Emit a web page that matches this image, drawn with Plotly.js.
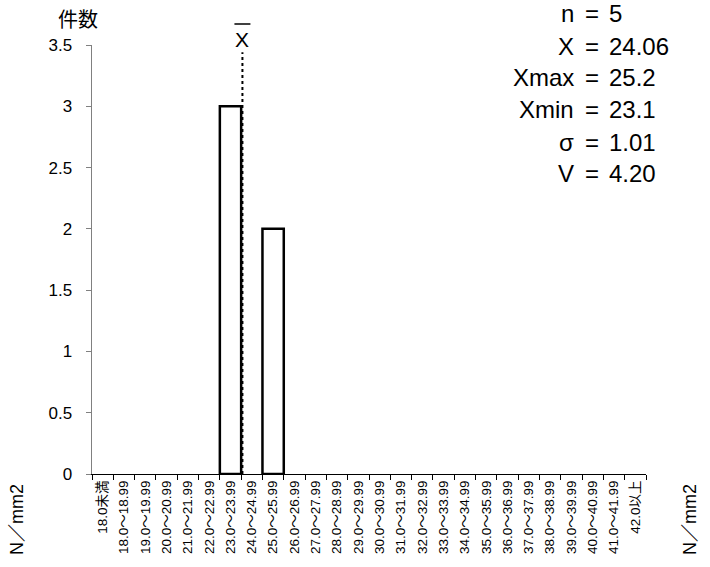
<!DOCTYPE html>
<html><head><meta charset="utf-8">
<script src="https://cdn.plot.ly/plotly-3.0.1.min.js"></script>
<style>body{margin:0;background:#fff}#c{width:710px;height:567px}</style>
</head><body><div id="c"></div>
<script>
const categories = ["18.0未満","18.0～18.99","19.0～19.99","20.0～20.99","21.0～21.99","22.0～22.99","23.0～23.99","24.0～24.99","25.0～25.99","26.0～26.99","27.0～27.99","28.0～28.99","29.0～29.99","30.0～30.99","31.0～31.99","32.0～32.99","33.0～33.99","34.0～34.99","35.0～35.99","36.0～36.99","37.0～37.99","38.0～38.99","39.0～39.99","40.0～40.99","41.0～41.99","42.0以上"];
const counts = [0,0,0,0,0,0,3,0,2,0,0,0,0,0,0,0,0,0,0,0,0,0,0,0,0,0];
const yTicks = [0,0.5,1,1.5,2,2.5,3,3.5];
const statNames = ["n","X","Xmax","Xmin","σ","V"];
const statValues = ["5","24.06","25.2","23.1","1.01","4.20"];
const meanValue = 24.06;
const firstBinStart = 18.0; // category index 1 starts at 18.0, bin width 1.0

const F = "'Liberation Sans', 'Noto Sans CJK JP', sans-serif";
const FJ = "'Noto Sans CJK JP', sans-serif";
const meanPos = 1 - 0.5 + (meanValue - firstBinStart);

const px = x => (x-92)/554;
const py = y => 1 + (45-y)/429;
const annotations = [];
statNames.forEach((s,i)=>{
  const yy = 14 + i*32;
  annotations.push({xref:'paper',yref:'paper',x:px(576),y:py(yy),xanchor:'right',yanchor:'middle',text:s,showarrow:false,font:{family:F,size:24,color:'#000'}});
  annotations.push({xref:'paper',yref:'paper',x:px(592),y:py(yy),xanchor:'center',yanchor:'middle',text:'=',showarrow:false,font:{family:F,size:24,color:'#000'}});
  annotations.push({xref:'paper',yref:'paper',x:px(607),y:py(yy),xanchor:'left',yanchor:'middle',text:statValues[i],showarrow:false,font:{family:F,size:24,color:'#000'}});
});
annotations.push({xref:'x',yref:'paper',x:meanPos,y:py(39),xanchor:'center',yanchor:'middle',text:'X',showarrow:false,font:{family:F,size:21,color:'#000'}});
annotations.push({xref:'paper',yref:'paper',x:px(78),y:py(18),xanchor:'center',yanchor:'middle',text:'件数',showarrow:false,font:{family:FJ,size:20,color:'#000'}});
annotations.push({xref:'paper',yref:'paper',x:px(17),y:py(520),xanchor:'center',yanchor:'middle',text:'N／mm2',textangle:-90,showarrow:false,font:{family:F,size:18,color:'#000'}});
annotations.push({xref:'paper',yref:'paper',x:px(690),y:py(520),xanchor:'center',yanchor:'middle',text:'N／mm2',textangle:-90,showarrow:false,font:{family:F,size:18,color:'#000'}});

const data = [{
  type:'bar', x:categories, y:counts.map(v => v === 0 ? null : v),
  marker:{color:'#fff', line:{color:'#000', width:2.5}},
  hoverinfo:'none'
}];
const layout = {
  width:710,height:567,
  margin:{l:92,r:64,t:45,b:93},
  paper_bgcolor:'#fff',plot_bgcolor:'#fff',
  showlegend:false, bargap:0,
  font:{family:F,color:'#000'},
  xaxis:{type:'category',tickson:'boundaries',ticks:'outside',ticklen:5,tickcolor:'#000',
    showline:true,linecolor:'#000',linewidth:1,showgrid:false,zeroline:false,
    tickangle:-90,tickfont:{family:F,size:13.5,color:'#000'},automargin:false},
  yaxis:{range:[0,3.5],tickvals:yTicks,ticktext:yTicks.map(String),ticks:'outside',ticklen:5,
    tickcolor:'#808080',showline:true,linecolor:'#808080',linewidth:1.5,showgrid:false,zeroline:false,
    tickfont:{family:F,size:17,color:'#000'},ticklabelstandoff:10,automargin:false},
  shapes:[
    {type:'line',xref:'x',yref:'y',x0:meanPos,x1:meanPos,y0:0,y1:3.44,line:{color:'#000',width:2,dash:'dot'}},
    {type:'line',xref:'x',yref:'paper',xsizemode:'pixel',xanchor:meanPos,x0:-8,x1:8,y0:py(24),y1:py(24),line:{color:'#000',width:1.5}}
  ],
  annotations:annotations
};
Plotly.newPlot('c',data,layout,{staticPlot:true});
</script></body></html>
